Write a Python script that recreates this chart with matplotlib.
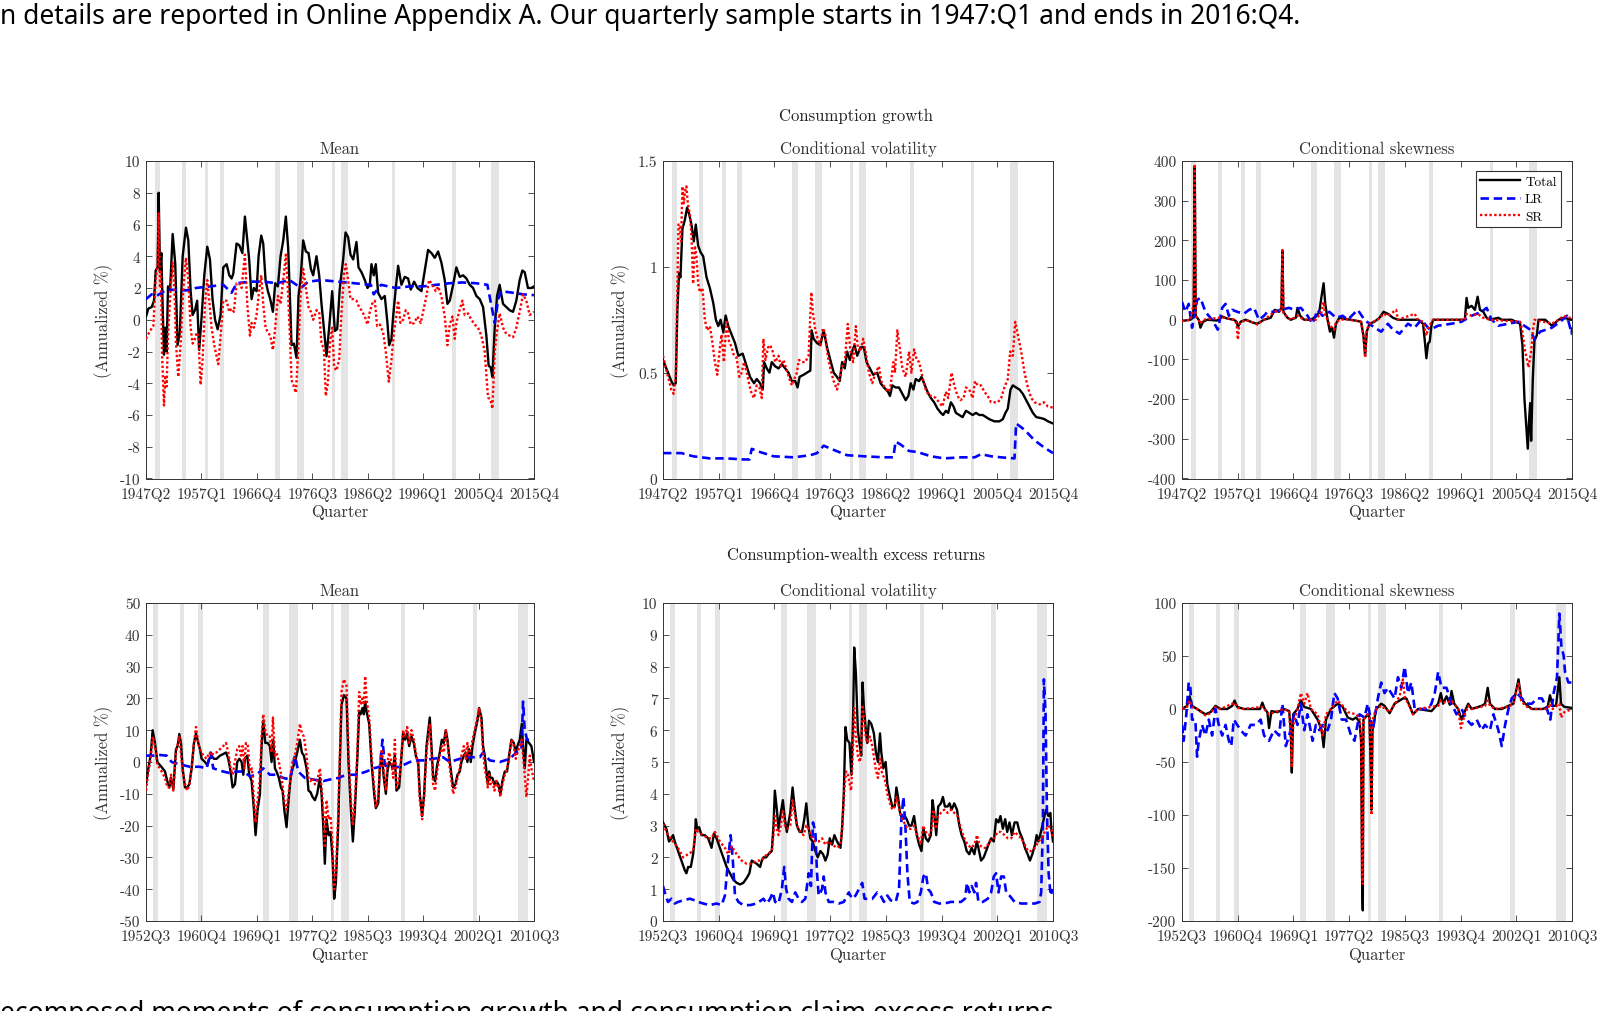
import numpy as np
import matplotlib

matplotlib.use("Agg")
import matplotlib.pyplot as plt

plt.rcParams["font.family"] = "cmr10"
plt.rcParams["axes.unicode_minus"] = False

# NBER recession bands (fractional years)
recessions = [(1948.8, 1949.7), (1953.5, 1954.3), (1957.6, 1958.2), (1960.25, 1961.0),
              (1969.9, 1970.8), (1973.8, 1975.1), (1980.0, 1980.5), (1981.5, 1982.7),
              (1990.5, 1991.1), (2001.1, 2001.75), (2007.9, 2009.3)]

top_ticklabels = ["1947Q2", "1957Q1", "1966Q4", "1976Q3", "1986Q2", "1996Q1", "2005Q4", "2015Q4"]
bottom_ticklabels = ["1952Q3", "1960Q4", "1969Q1", "1977Q2", "1985Q3", "1993Q4", "2002Q1", "2010Q3"]

# ---- Consumption growth: mean ----
cg_mean_total = [(1947.25, 0.2), (1947.66, 0.7), (1948.25, 0.8), (1948.66, 1.2), (1948.95, 3.1), (1949.3, 3.3), (1949.48, 8.0), (1949.71, 3.0), (1949.95, 4.2), (1950.2, 0.5), (1950.41, -2.2), (1950.65, -0.5), (1950.88, -2.0), (1951.12, 2.1), (1951.5, 2.0), (1951.94, 5.4), (1952.4, 3.5), (1952.8, -1.6), (1953.2, -0.8), (1953.7, 4.0), (1954.28, 5.8), (1954.69, 5.0), (1955.1, 1.8), (1955.45, 0.3), (1955.86, 0.6), (1956.25, 1.2), (1956.6, -1.9), (1957.0, 0.0), (1957.5, 2.8), (1958.03, 4.6), (1958.5, 3.8), (1958.95, 1.3), (1959.4, 0.0), (1959.85, -0.6), (1960.37, 0.3), (1960.84, 3.3), (1961.43, 3.5), (1961.9, 2.8), (1962.31, 2.6), (1962.6, 2.9), (1963.18, 4.8), (1963.65, 4.7), (1964.2, 4.2), (1964.65, 6.5), (1965.06, 5.0), (1965.4, 3.8), (1965.82, 1.3), (1966.23, 2.0), (1966.7, 1.8), (1967.05, 4.0), (1967.52, 5.3), (1967.87, 4.8), (1968.28, 2.5), (1968.69, 1.8), (1969.1, 1.3), (1969.57, 0.5), (1969.98, 2.3), (1970.45, 2.1), (1970.92, 4.0), (1971.39, 5.0), (1971.85, 6.5), (1972.26, 4.5), (1972.56, 1.5), (1972.85, -1.6), (1973.26, -1.5), (1973.73, -2.4), (1974.08, 1.5), (1974.43, 2.5), (1974.9, 5.0), (1975.37, 4.3), (1975.84, 4.2), (1976.25, 3.2), (1976.66, 2.8), (1977.24, 4.0), (1977.71, 2.8), (1978.12, 1.0), (1978.53, -0.5), (1979.0, -2.3), (1979.47, -0.5), (1980.0, 1.8), (1980.47, -0.7), (1980.88, -0.6), (1981.34, 2.0), (1981.93, 3.8), (1982.35, 5.5), (1982.81, 5.2), (1983.22, 4.1), (1983.69, 3.8), (1984.27, 4.9), (1984.63, 3.3), (1985.15, 3.0), (1985.74, 2.5), (1986.21, 2.0), (1986.62, 2.2), (1986.91, 3.5), (1987.32, 2.8), (1987.67, 3.5), (1988.08, 1.7), (1988.67, 1.3), (1989.25, 1.5), (1989.72, -0.2), (1990.02, -1.6), (1990.43, -1.2), (1990.72, 0.2), (1991.19, 2.0), (1991.6, 3.4), (1992.18, 2.2), (1992.77, 2.7), (1993.35, 2.6), (1993.82, 1.9), (1994.41, 2.4), (1994.99, 2.0), (1995.7, 1.8), (1996.28, 3.1), (1996.87, 4.4), (1997.46, 4.2), (1998.04, 3.9), (1998.63, 4.3), (1999.21, 3.6), (1999.8, 2.5), (2000.27, 1.0), (2000.68, 1.2), (2001.27, 2.2), (2001.85, 3.3), (2002.44, 2.7), (2003.02, 2.8), (2003.61, 2.6), (2004.19, 2.2), (2004.78, 2.0), (2005.36, 1.5), (2005.95, 1.3), (2006.54, 0.8), (2007.12, -1.0), (2007.53, -2.9), (2007.88, -3.0), (2008.18, -3.6), (2008.59, -0.5), (2009.0, 1.5), (2009.46, 2.2), (2010.05, 1.0), (2010.64, 0.8), (2011.22, 0.6), (2011.81, 0.5), (2012.39, 1.2), (2012.98, 2.5), (2013.45, 3.1), (2013.86, 3.0), (2014.44, 2.0), (2015.03, 2.0), (2015.5, 2.1)]
cg_mean_lr = [(1947.25, 1.3), (1948.25, 1.6), (1949.1, 1.5), (1950.9, 1.9), (1954.4, 1.85), (1956.0, 2.0), (1958.5, 2.1), (1960.85, 2.2), (1962.3, 1.7), (1963.2, 2.3), (1965.6, 2.4), (1967.9, 2.4), (1970.3, 2.3), (1972.5, 2.5), (1974.5, 2.0), (1975.8, 2.4), (1978.1, 2.5), (1981.0, 2.4), (1983.9, 2.3), (1986.8, 2.2), (1987.3, 1.6), (1988.6, 2.2), (1991.2, 2.0), (1993.6, 2.1), (1995.9, 2.1), (1998.3, 2.2), (2000.6, 2.3), (2002.9, 2.35), (2005.3, 2.3), (2007.3, 2.2), (2008.6, -0.2), (2009.2, 1.3), (2009.7, 1.8), (2011.8, 1.7), (2013.6, 1.6), (2015.5, 1.55)]
cg_mean_sr = [(1947.25, -1.2), (1947.95, -0.7), (1948.54, -0.4), (1948.95, 2.5), (1949.3, 3.5), (1949.48, 6.7), (1949.71, 2.0), (1949.89, 3.0), (1950.06, -2.0), (1950.41, -5.4), (1950.65, -3.5), (1950.88, -4.2), (1951.12, -1.0), (1951.35, 0.5), (1951.59, 2.0), (1951.94, 3.6), (1952.29, 1.5), (1952.52, -1.5), (1952.93, -3.6), (1953.34, -1.5), (1953.81, 2.0), (1954.28, 3.9), (1954.69, 2.5), (1955.1, -0.5), (1955.45, -1.5), (1955.86, -1.2), (1956.15, -0.8), (1956.45, -1.0), (1956.86, -4.1), (1957.21, -2.5), (1957.62, 1.0), (1958.03, 2.5), (1958.38, 1.2), (1958.79, -0.5), (1959.2, -1.5), (1959.67, -2.3), (1959.96, -2.8), (1960.37, -1.0), (1960.84, 1.2), (1961.43, 1.2), (1961.9, 0.5), (1962.31, 0.7), (1962.72, 0.5), (1963.18, 2.3), (1963.65, 2.3), (1964.06, 2.0), (1964.65, 4.1), (1965.06, 1.0), (1965.53, -1.0), (1965.82, -0.2), (1966.23, -0.5), (1966.7, 0.3), (1967.05, 1.5), (1967.52, 2.8), (1967.87, 1.0), (1968.28, -0.5), (1968.69, -0.8), (1969.1, -1.0), (1969.57, -1.9), (1969.98, -0.5), (1970.45, 1.5), (1970.92, 1.0), (1971.39, 2.5), (1971.85, 4.1), (1972.26, 1.5), (1972.56, -1.0), (1972.85, -3.8), (1973.26, -4.2), (1973.61, -4.6), (1974.02, -2.0), (1974.43, 1.5), (1974.9, 3.2), (1975.37, 2.0), (1975.84, 0.8), (1976.25, 0.5), (1976.66, 0.0), (1977.24, 0.6), (1977.71, 0.5), (1978.12, -1.5), (1978.53, -1.8), (1978.88, -4.8), (1979.24, -4.0), (1979.59, -1.5), (1980.0, -0.5), (1980.35, -3.0), (1980.76, -3.2), (1981.23, -2.5), (1981.64, 0.5), (1982.11, 3.0), (1982.4, 3.5), (1982.81, 2.5), (1983.22, 1.3), (1983.69, 1.3), (1984.27, 1.2), (1984.74, 0.8), (1985.15, 0.6), (1985.74, 0.2), (1986.21, -0.3), (1986.62, 0.5), (1987.03, 1.0), (1987.5, 1.2), (1987.91, -0.4), (1988.38, -0.3), (1988.96, -0.8), (1989.43, -2.0), (1989.96, -3.9), (1990.43, -2.5), (1990.84, -0.8), (1991.19, 0.0), (1991.6, 1.2), (1992.01, -0.2), (1992.48, 0.0), (1992.94, 0.6), (1993.35, 0.4), (1993.82, -0.3), (1994.41, -0.2), (1994.99, 0.2), (1995.58, -0.2), (1995.99, 0.5), (1996.58, 1.5), (1997.05, 2.5), (1997.63, 2.2), (1998.22, 1.8), (1998.63, 2.1), (1999.21, 1.5), (1999.8, 0.2), (2000.27, -1.6), (2000.68, -0.3), (2001.15, 0.2), (2001.56, -1.2), (2001.85, -0.2), (2002.32, 0.5), (2002.9, 1.2), (2003.31, 0.3), (2003.9, 0.4), (2004.49, 0.0), (2005.07, -0.3), (2005.66, -0.5), (2006.24, -1.0), (2006.83, -2.0), (2007.41, -4.9), (2007.82, -5.0), (2008.18, -5.6), (2008.59, -2.0), (2008.88, -1.0), (2009.46, 0.4), (2010.05, -0.5), (2010.64, -0.9), (2011.22, -1.0), (2011.81, -1.1), (2012.39, -0.5), (2012.98, 0.5), (2013.57, 1.6), (2014.15, 1.2), (2014.74, 0.3), (2015.5, 0.5)]

# ---- Consumption growth: conditional volatility ----
cg_vol_total = [(1947.25, 0.56), (1948.13, 0.5), (1948.71, 0.46), (1949.12, 0.44), (1949.48, 0.45), (1949.77, 0.8), (1950.06, 0.97), (1950.3, 0.95), (1950.65, 1.18), (1951.06, 1.22), (1951.47, 1.28), (1951.82, 1.25), (1952.23, 1.2), (1952.64, 1.12), (1952.99, 1.2), (1953.4, 1.1), (1953.81, 1.07), (1954.28, 1.05), (1954.87, 0.95), (1955.45, 0.9), (1956.04, 0.83), (1956.51, 0.75), (1956.92, 0.72), (1957.33, 0.75), (1957.8, 0.69), (1958.21, 0.77), (1958.67, 0.72), (1959.26, 0.68), (1959.85, 0.64), (1960.43, 0.58), (1961.19, 0.59), (1961.9, 0.53), (1962.48, 0.48), (1963.18, 0.45), (1963.65, 0.47), (1964.24, 0.45), (1964.71, 0.42), (1964.94, 0.55), (1965.41, 0.52), (1965.88, 0.5), (1966.29, 0.55), (1966.88, 0.53), (1967.46, 0.52), (1968.05, 0.54), (1968.63, 0.52), (1969.22, 0.5), (1969.8, 0.46), (1970.39, 0.46), (1970.8, 0.43), (1971.15, 0.48), (1971.85, 0.49), (1972.44, 0.5), (1973.03, 0.51), (1973.26, 0.7), (1973.61, 0.66), (1974.2, 0.64), (1974.78, 0.63), (1975.37, 0.7), (1975.95, 0.62), (1976.54, 0.56), (1977.12, 0.5), (1977.71, 0.48), (1978.18, 0.46), (1978.59, 0.55), (1979.06, 0.52), (1979.47, 0.6), (1979.94, 0.56), (1980.35, 0.6), (1980.76, 0.63), (1981.23, 0.58), (1981.81, 0.62), (1982.4, 0.62), (1982.87, 0.55), (1983.45, 0.52), (1984.04, 0.49), (1984.74, 0.5), (1985.33, 0.45), (1985.92, 0.43), (1986.62, 0.41), (1986.97, 0.39), (1987.38, 0.44), (1987.96, 0.43), (1988.55, 0.43), (1989.14, 0.4), (1989.72, 0.37), (1990.19, 0.39), (1990.6, 0.45), (1991.07, 0.42), (1991.48, 0.47), (1992.07, 0.46), (1992.48, 0.48), (1992.94, 0.45), (1993.53, 0.41), (1994.12, 0.38), (1994.7, 0.36), (1995.29, 0.33), (1995.87, 0.31), (1996.28, 0.3), (1996.75, 0.32), (1997.16, 0.31), (1997.63, 0.36), (1998.1, 0.34), (1998.51, 0.31), (1999.09, 0.3), (1999.68, 0.29), (2000.27, 0.32), (2000.85, 0.31), (2001.44, 0.3), (2002.02, 0.31), (2002.61, 0.3), (2003.2, 0.3), (2003.78, 0.29), (2004.37, 0.28), (2005.25, 0.27), (2006.12, 0.27), (2006.71, 0.28), (2007.18, 0.31), (2007.59, 0.33), (2008.06, 0.42), (2008.47, 0.44), (2009.05, 0.43), (2009.64, 0.42), (2010.22, 0.4), (2010.81, 0.37), (2011.4, 0.34), (2011.98, 0.31), (2012.57, 0.29), (2013.45, 0.285), (2014.03, 0.28), (2014.62, 0.27), (2015.5, 0.26)]
cg_vol_lr = [(1947.25, 0.12), (1950.47, 0.12), (1952.52, 0.105), (1955.45, 0.095), (1958.38, 0.095), (1961.31, 0.09), (1962.37, 0.09), (1962.78, 0.14), (1964.24, 0.125), (1966.58, 0.105), (1970.1, 0.1), (1973.03, 0.11), (1974.2, 0.12), (1975.37, 0.155), (1977.12, 0.135), (1979.47, 0.11), (1982.4, 0.105), (1985.92, 0.1), (1987.55, 0.1), (1987.96, 0.175), (1988.85, 0.16), (1990.31, 0.13), (1991.78, 0.125), (1994.12, 0.105), (1996.46, 0.095), (1999.39, 0.1), (2001.79, 0.1), (2002.9, 0.115), (2004.66, 0.105), (2006.42, 0.1), (2008.76, 0.095), (2009.05, 0.26), (2010.52, 0.23), (2012.28, 0.18), (2014.03, 0.145), (2015.5, 0.12)]
cg_vol_sr = [(1947.25, 0.58), (1948.13, 0.48), (1948.71, 0.42), (1949.12, 0.4), (1949.48, 0.48), (1949.77, 0.9), (1949.95, 1.2), (1950.18, 1.2), (1950.41, 1.12), (1950.65, 1.38), (1950.88, 1.3), (1951.12, 1.36), (1951.35, 1.38), (1951.59, 1.3), (1951.94, 1.25), (1952.23, 1.15), (1952.52, 0.92), (1952.82, 1.1), (1953.11, 1.05), (1953.4, 0.92), (1953.69, 0.88), (1954.16, 0.9), (1954.57, 0.75), (1954.98, 0.7), (1955.45, 0.72), (1955.86, 0.65), (1956.33, 0.55), (1956.74, 0.49), (1957.21, 0.62), (1957.5, 0.68), (1957.91, 0.55), (1958.38, 0.75), (1958.79, 0.65), (1959.26, 0.62), (1959.67, 0.58), (1960.14, 0.57), (1960.61, 0.48), (1961.02, 0.5), (1961.43, 0.55), (1961.9, 0.5), (1962.37, 0.44), (1962.78, 0.4), (1963.18, 0.38), (1963.65, 0.44), (1964.12, 0.43), (1964.53, 0.38), (1964.82, 0.66), (1965.18, 0.56), (1965.64, 0.62), (1966.0, 0.63), (1966.46, 0.6), (1966.88, 0.55), (1967.46, 0.58), (1967.87, 0.53), (1968.34, 0.56), (1968.81, 0.52), (1969.39, 0.47), (1969.8, 0.44), (1970.22, 0.47), (1970.68, 0.5), (1971.03, 0.56), (1971.56, 0.55), (1972.15, 0.55), (1972.73, 0.58), (1973.2, 0.88), (1973.5, 0.78), (1973.91, 0.7), (1974.32, 0.66), (1974.78, 0.63), (1975.25, 0.71), (1975.66, 0.68), (1976.07, 0.58), (1976.54, 0.52), (1977.12, 0.46), (1977.71, 0.42), (1978.18, 0.48), (1978.59, 0.53), (1979.06, 0.55), (1979.59, 0.73), (1980.06, 0.6), (1980.53, 0.55), (1981.0, 0.72), (1981.34, 0.62), (1981.81, 0.6), (1982.28, 0.66), (1982.69, 0.6), (1983.28, 0.5), (1983.86, 0.45), (1984.45, 0.5), (1985.03, 0.53), (1985.45, 0.46), (1986.03, 0.43), (1986.79, 0.41), (1987.09, 0.44), (1987.55, 0.55), (1987.85, 0.5), (1988.26, 0.7), (1988.67, 0.62), (1989.14, 0.52), (1989.72, 0.48), (1990.31, 0.6), (1990.72, 0.5), (1991.19, 0.61), (1991.66, 0.56), (1992.07, 0.55), (1992.65, 0.48), (1993.24, 0.42), (1993.82, 0.39), (1994.41, 0.39), (1994.99, 0.38), (1995.58, 0.36), (1996.16, 0.34), (1996.75, 0.41), (1997.16, 0.38), (1997.75, 0.5), (1998.22, 0.44), (1998.8, 0.39), (1999.27, 0.37), (1999.86, 0.38), (2000.27, 0.43), (2000.85, 0.42), (2001.44, 0.38), (2001.85, 0.46), (2002.32, 0.44), (2002.9, 0.44), (2003.49, 0.41), (2004.08, 0.39), (2004.66, 0.36), (2005.25, 0.36), (2005.83, 0.36), (2006.42, 0.38), (2007.0, 0.43), (2007.59, 0.47), (2008.0, 0.6), (2008.47, 0.58), (2008.88, 0.74), (2009.34, 0.68), (2009.93, 0.6), (2010.52, 0.5), (2011.1, 0.43), (2011.69, 0.38), (2012.28, 0.36), (2013.16, 0.35), (2013.92, 0.36), (2014.62, 0.34), (2015.5, 0.335)]

# ---- Consumption growth: conditional skewness ----
cg_skew_total = [(1947.25, -3), (1948.71, 0), (1949.18, 5), (1949.3, 40), (1949.48, 385), (1949.65, 10), (1950.18, 0), (1950.47, -20), (1950.94, -5), (1951.65, 0), (1953.4, -2), (1954.28, 8), (1955.16, 3), (1956.33, 0), (1956.8, -5), (1957.03, -18), (1957.5, -5), (1958.38, 0), (1959.85, -8), (1960.43, -10), (1961.6, 0), (1962.78, 5), (1963.47, 25), (1964.24, 20), (1964.65, 30), (1964.82, 175), (1965.0, 20), (1965.7, 5), (1966.29, 0), (1967.17, 5), (1967.46, 30), (1967.93, 10), (1968.63, 0), (1969.8, 0), (1970.68, 8), (1971.27, 20), (1971.68, 60), (1972.03, 92), (1972.32, 40), (1972.73, 0), (1973.14, -30), (1973.5, -20), (1973.85, -45), (1974.2, -10), (1974.78, 5), (1975.66, 2), (1976.83, 0), (1978.59, -5), (1979.0, -40), (1979.3, -90), (1979.59, -30), (1980.06, -10), (1980.94, -5), (1981.81, 5), (1982.52, 20), (1983.28, 15), (1984.16, 5), (1985.03, 0), (1988.55, 0), (1989.43, -10), (1989.72, -50), (1990.02, -97), (1990.31, -60), (1990.6, -55), (1990.9, -15), (1991.19, 0), (1996.75, 0), (1997.05, 55), (1997.34, 30), (1997.93, 35), (1998.51, 25), (1998.98, 58), (1999.39, 25), (1999.97, 20), (2000.56, 5), (2001.15, 0), (2002.61, 5), (2003.2, 0), (2004.95, 0), (2006.42, -10), (2006.83, -65), (2007.18, -200), (2007.76, -325), (2008.0, -250), (2008.18, -210), (2008.35, -305), (2008.64, -150), (2008.94, -50), (2009.34, -40), (2009.64, 0), (2010.81, 0), (2011.98, -15), (2013.16, 0), (2014.03, 5), (2015.5, 0)]
cg_skew_lr = [(1947.25, 45), (1947.84, 20), (1948.42, 40), (1949.01, -20), (1949.89, 50), (1950.47, 55), (1951.35, 20), (1952.52, 0), (1953.52, -25), (1954.28, 30), (1954.87, 40), (1955.45, 10), (1956.04, 25), (1956.92, 20), (1958.09, 15), (1958.97, 25), (1959.85, 30), (1960.72, 0), (1961.6, 10), (1962.19, 20), (1963.36, 20), (1964.53, 25), (1965.99, 30), (1966.88, 25), (1968.05, 30), (1969.22, 10), (1970.1, -10), (1970.98, 25), (1971.85, 10), (1973.03, 20), (1974.2, 5), (1975.37, 10), (1976.25, 0), (1978.0, 25), (1979.18, 0), (1980.94, -20), (1982.11, -30), (1983.28, -10), (1984.16, -25), (1985.33, -35), (1986.79, -10), (1987.96, -20), (1989.14, 0), (1990.6, -25), (1992.07, -15), (1994.41, -10), (1996.16, -5), (1997.93, 10), (1999.68, 20), (2000.56, 30), (2001.44, 0), (2002.61, -15), (2004.37, -10), (2006.12, -5), (2008.18, -25), (2008.94, -50), (2009.93, -30), (2011.98, -20), (2013.45, -5), (2014.62, 10), (2015.45, -35), (2015.5, -20)]
cg_skew_sr = [(1947.25, -3), (1948.71, 0), (1949.3, 40), (1949.48, 392), (1949.65, 10), (1950.18, 0), (1950.47, -10), (1951.0, 0), (1954.28, 6), (1956.33, 0), (1956.8, -10), (1957.03, -50), (1957.3, -10), (1958.38, 0), (1960.43, -12), (1961.6, 0), (1963.47, 20), (1964.65, 25), (1964.82, 175), (1965.0, 15), (1966.29, 0), (1967.46, 10), (1968.63, 0), (1970.68, 0), (1971.68, 20), (1972.03, 45), (1972.32, 10), (1972.73, 0), (1973.14, -15), (1973.85, -25), (1974.2, -5), (1975.66, 2), (1978.59, -5), (1979.0, -40), (1979.3, -95), (1979.59, -25), (1980.06, -10), (1981.81, 3), (1982.52, 15), (1983.28, 10), (1984.74, 25), (1985.03, 0), (1987.96, 15), (1988.55, 0), (1989.43, -5), (1990.02, -40), (1990.31, -20), (1991.19, 0), (1996.75, 0), (1997.05, 15), (1997.93, 10), (1998.98, 15), (1999.97, 5), (2001.15, 0), (2006.42, -5), (2006.83, -30), (2007.18, -70), (2007.53, -95), (2007.88, -120), (2008.35, -80), (2008.64, -30), (2008.94, 0), (2011.98, -10), (2013.16, 0), (2014.03, 10), (2015.5, 3)]

# ---- Consumption-wealth excess returns: mean ----
cw_mean_total = [(1952.5, -7), (1952.85, -2), (1953.19, 2), (1953.49, 10), (1953.84, 6), (1954.19, 0), (1954.58, -1), (1954.98, -2), (1955.33, -3), (1955.67, -6), (1955.97, -8), (1956.22, -5), (1956.57, -8.5), (1956.96, 4), (1957.21, 5), (1957.46, 8.8), (1957.71, 6), (1957.95, -2), (1958.3, -8), (1958.65, -8), (1958.95, -7), (1959.29, -2), (1959.64, 6), (1959.94, 9), (1960.28, 6), (1960.53, 4), (1960.78, 1), (1961.28, 0), (1961.62, -1), (1961.92, 1), (1962.27, 2), (1962.61, 1), (1963.01, 1), (1963.51, 2), (1964.0, 2.5), (1964.4, 3), (1964.75, 1), (1965.09, -3), (1965.39, -8), (1965.74, -7), (1966.08, 0), (1966.38, 1), (1966.73, 0), (1966.98, -4), (1967.22, 1), (1967.57, 2), (1967.87, -4), (1968.22, -6), (1968.56, -15), (1968.81, -23), (1969.11, -15), (1969.46, -10), (1969.7, 5), (1969.95, 13), (1970.25, 6), (1970.6, 6), (1970.94, 5), (1971.19, 0), (1971.44, 7), (1971.69, -2), (1971.93, -3), (1972.28, -5), (1972.58, -8), (1972.83, -9), (1973.08, -15), (1973.42, -20.5), (1973.72, -12), (1974.02, -5), (1974.31, -2), (1974.66, 0), (1975.01, 3), (1975.41, 7), (1975.7, 3), (1976.0, 2), (1976.4, -2), (1976.69, -9), (1976.99, -9.5), (1977.29, -11), (1977.64, -12), (1977.98, -10), (1978.38, -5), (1978.63, -10), (1978.88, -20), (1979.12, -32), (1979.37, -18), (1979.67, -23), (1979.97, -22), (1980.26, -30), (1980.51, -43), (1980.76, -38), (1981.11, -20), (1981.35, 0), (1981.6, 18), (1981.95, 21), (1982.35, 20), (1982.64, 0), (1982.99, -15), (1983.29, -25), (1983.59, -15), (1983.93, 0), (1984.23, 16), (1984.43, 15), (1984.73, 17), (1984.92, 15), (1985.12, 19), (1985.32, 16), (1985.72, 12), (1986.06, 0), (1986.46, -10), (1986.71, -14.5), (1987.06, -13), (1987.3, -2), (1987.6, 2), (1987.9, -5), (1988.2, -10), (1988.44, -3), (1988.69, 0), (1989.04, -1), (1989.29, -2), (1989.54, 2), (1989.78, -9), (1990.18, -8), (1990.53, 2), (1990.77, 9), (1991.07, 7), (1991.37, 9), (1991.67, 5), (1992.01, 8), (1992.36, 6), (1992.66, 2), (1993.01, 0), (1993.25, -10), (1993.6, -17), (1993.9, -10), (1994.25, 5), (1994.74, 14), (1994.99, 5), (1995.24, -5), (1995.53, -6), (1995.83, -1), (1996.23, 3), (1996.53, 7), (1996.82, 6), (1997.12, 10), (1997.37, 7), (1997.72, 0), (1998.21, -8), (1998.56, -7), (1998.86, -4), (1999.2, -3), (1999.45, 0), (1999.8, 2), (2000.1, 3), (2000.34, 0), (2000.59, 4), (2000.84, 0), (2001.09, 5), (2001.43, 9), (2001.83, 13), (2002.08, 17), (2002.43, 14), (2002.67, 5), (2002.92, 2), (2003.17, -3), (2003.37, -7), (2003.57, -3), (2003.76, -5), (2004.06, -5), (2004.36, -7), (2004.66, -6), (2004.95, -7), (2005.25, -10), (2005.55, -6), (2005.9, -3), (2006.24, -3), (2006.54, 2), (2006.89, 7), (2007.24, 6), (2007.53, 3), (2007.78, 5), (2008.13, 7), (2008.43, 12), (2008.62, 5), (2008.87, -2), (2009.12, 7), (2009.51, 6), (2009.86, 5), (2010.25, 0)]
cw_mean_lr = [(1952.5, 2), (1953.59, 2), (1954.58, 2.2), (1955.57, 2), (1956.32, 0), (1957.16, -0.5), (1958.05, -1), (1959.04, -1.5), (1960.53, -1.5), (1961.52, -2), (1962.12, 3), (1962.51, -2), (1964.0, -3), (1964.99, -3.5), (1965.99, -3), (1966.98, -3), (1967.97, -4.5), (1968.96, -4), (1969.95, -2), (1970.94, -4), (1971.93, -4), (1972.93, -5), (1973.92, -5.5), (1974.66, 2), (1975.16, -3), (1976.15, -5), (1977.39, -5.5), (1978.88, -6), (1979.87, -5.5), (1981.11, -5), (1982.35, -4), (1983.83, -4), (1985.32, -3), (1986.31, -2), (1987.3, -1.5), (1987.7, 7), (1988.05, -1), (1988.79, -2), (1990.28, -1.5), (1991.77, 0), (1992.76, 0.5), (1993.75, 0.5), (1995.24, 1), (1996.72, 1.5), (1997.72, 0), (1999.2, 1), (2000.69, 1.5), (2002.18, 1.5), (2002.67, 3), (2003.67, 0.5), (2005.15, 0), (2006.64, 1), (2007.63, 3), (2008.38, 4), (2008.62, 19), (2008.87, 10), (2009.22, 7), (2009.62, 7), (2010.25, 7)]
cw_mean_sr = [(1952.5, -9), (1952.85, -3), (1953.19, 1), (1953.49, 8), (1953.84, 5), (1954.19, -1), (1954.58, -2), (1955.33, -5), (1955.67, -8), (1955.97, -8), (1956.22, -4), (1956.57, -9), (1956.96, 3), (1957.46, 8), (1957.95, -3), (1958.3, -7), (1958.65, -9), (1958.95, -7), (1959.29, -2), (1959.64, 6), (1959.94, 11), (1960.28, 6), (1960.53, 4), (1961.03, 2), (1961.52, 1), (1961.92, 3), (1962.27, 2), (1962.61, 3), (1963.01, 3), (1963.51, 4), (1964.0, 5), (1964.4, 6), (1964.75, 3), (1965.09, -2), (1965.39, -4), (1965.74, 0), (1966.08, 4), (1966.38, 5), (1966.63, 2), (1966.88, 5), (1967.13, -2), (1967.37, 6), (1967.67, 5), (1967.97, -3), (1968.27, -2), (1968.56, -12), (1968.81, -19), (1969.11, -12), (1969.46, -5), (1969.7, 8), (1969.95, 15), (1970.25, 10), (1970.6, 8), (1970.94, 8), (1971.19, 3), (1971.39, 14), (1971.69, 2), (1971.93, 3), (1972.28, 0), (1972.68, -5), (1973.08, -12), (1973.42, -15), (1973.72, -10), (1974.02, -4), (1974.31, 0), (1974.66, 2), (1975.01, 6), (1975.41, 12), (1975.7, 9), (1976.0, 8), (1976.4, 2), (1976.69, -5), (1976.99, -6), (1977.29, -5), (1977.64, -7), (1977.98, -6), (1978.38, -2), (1978.63, -8), (1978.88, -15), (1979.12, -27), (1979.37, -12), (1979.67, -18), (1979.97, -17), (1980.26, -26), (1980.51, -40), (1980.76, -35), (1981.11, -16), (1981.35, 2), (1981.6, 22), (1981.95, 26), (1982.35, 24), (1982.64, 3), (1982.99, -12), (1983.29, -20), (1983.59, -12), (1983.93, 2), (1984.23, 22), (1984.43, 18), (1984.73, 20), (1984.92, 18), (1985.12, 27), (1985.32, 20), (1985.72, 14), (1986.06, 2), (1986.46, -8), (1986.71, -14), (1987.06, -12), (1987.3, -2), (1987.6, 4), (1987.9, -3), (1988.2, -9), (1988.44, 0), (1988.69, 3), (1989.04, 0), (1989.29, -5), (1989.54, 7), (1989.78, -8), (1990.18, -6), (1990.53, 3), (1990.77, 10), (1991.07, 8), (1991.37, 11), (1991.67, 6), (1992.01, 10), (1992.36, 7), (1992.66, 3), (1993.01, -1), (1993.25, -12), (1993.6, -18), (1993.9, -11), (1994.25, 3), (1994.74, 12), (1994.99, 3), (1995.24, -7), (1995.53, -9), (1995.83, -3), (1996.23, 2), (1996.53, 5), (1996.82, 3), (1997.12, 10), (1997.37, 6), (1997.72, -2), (1998.21, -10), (1998.56, -8), (1998.86, -5), (1999.2, -2), (1999.45, 2), (1999.8, 5), (2000.1, 1), (2000.34, 6), (2000.59, 2), (2000.84, 4), (2001.09, 7), (2001.43, 10), (2001.83, 14), (2002.08, 17), (2002.43, 12), (2002.67, 3), (2002.92, -2), (2003.17, -5), (2003.37, -8), (2003.57, -4), (2003.76, -7), (2004.06, -6), (2004.36, -9), (2004.66, -6), (2004.95, -8), (2005.25, -11), (2005.55, -7), (2005.9, -4), (2006.24, -2), (2006.54, 1), (2006.89, 7), (2007.24, 5), (2007.53, 1), (2007.78, 3), (2008.13, 5), (2008.43, 7), (2008.62, 2), (2008.87, -4), (2009.12, -11), (2009.37, -5), (2009.62, 2), (2009.86, -2), (2010.25, -6)]

# ---- Consumption-wealth excess returns: conditional volatility ----
cw_vol_total = [(1952.5, 3.1), (1953.0, 2.9), (1953.39, 2.5), (1953.74, 2.6), (1953.99, 2.7), (1954.24, 2.5), (1954.73, 2.2), (1955.23, 1.9), (1955.72, 1.6), (1955.97, 1.5), (1956.22, 1.7), (1956.62, 1.7), (1956.96, 2.1), (1957.21, 2.6), (1957.36, 3.2), (1957.56, 2.9), (1957.85, 2.95), (1958.2, 2.7), (1958.7, 2.7), (1959.19, 2.6), (1959.69, 2.3), (1960.04, 2.75), (1960.43, 2.6), (1960.93, 2.3), (1961.42, 2.0), (1961.92, 1.7), (1962.42, 1.5), (1962.91, 1.3), (1963.41, 1.2), (1963.9, 1.15), (1964.4, 1.2), (1964.89, 1.35), (1965.29, 1.5), (1965.64, 1.9), (1965.99, 1.85), (1966.38, 1.8), (1966.88, 1.7), (1967.13, 1.9), (1967.37, 2.0), (1967.77, 2.0), (1968.12, 2.1), (1968.61, 2.2), (1968.86, 3.0), (1969.06, 4.1), (1969.36, 3.5), (1969.6, 2.9), (1969.95, 3.4), (1970.25, 3.8), (1970.55, 3.2), (1970.84, 2.8), (1971.34, 3.4), (1971.69, 4.2), (1971.98, 3.6), (1972.33, 3.0), (1972.73, 2.8), (1973.08, 2.8), (1973.42, 3.2), (1973.72, 3.7), (1974.02, 3.0), (1974.31, 2.6), (1974.66, 2.5), (1975.06, 2.2), (1975.41, 2.0), (1975.8, 2.2), (1976.2, 2.1), (1976.55, 1.9), (1976.89, 2.1), (1977.19, 2.6), (1977.54, 2.4), (1977.88, 2.7), (1978.28, 2.5), (1978.78, 2.3), (1979.02, 2.9), (1979.27, 4.0), (1979.52, 6.1), (1979.77, 5.7), (1980.11, 5.6), (1980.41, 4.6), (1980.66, 6.5), (1980.81, 8.6), (1981.06, 7.8), (1981.35, 6.0), (1981.65, 5.5), (1981.85, 5.2), (1982.05, 7.5), (1982.25, 6.7), (1982.54, 6.0), (1982.74, 5.6), (1982.99, 6.3), (1983.34, 6.2), (1983.73, 5.9), (1984.03, 5.3), (1984.33, 5.0), (1984.63, 5.9), (1984.83, 5.3), (1985.12, 4.8), (1985.47, 5.0), (1985.72, 4.3), (1986.11, 3.9), (1986.46, 3.6), (1986.81, 3.6), (1987.06, 4.2), (1987.3, 3.9), (1987.6, 3.4), (1987.95, 3.2), (1988.3, 3.3), (1988.59, 3.2), (1988.94, 3.0), (1989.29, 3.0), (1989.68, 3.3), (1990.08, 2.7), (1990.43, 2.4), (1990.77, 2.2), (1991.07, 2.9), (1991.42, 2.6), (1991.77, 2.5), (1992.16, 2.7), (1992.41, 3.8), (1992.66, 3.4), (1992.96, 2.7), (1993.25, 3.6), (1993.65, 3.7), (1993.95, 3.9), (1994.25, 3.6), (1994.64, 3.6), (1994.94, 3.7), (1995.24, 3.5), (1995.63, 3.7), (1996.03, 3.5), (1996.38, 3.0), (1996.72, 2.7), (1997.12, 2.5), (1997.47, 2.2), (1997.86, 2.1), (1998.21, 2.3), (1998.61, 2.1), (1998.96, 2.5), (1999.2, 2.3), (1999.6, 1.9), (1999.99, 2.0), (2000.34, 2.2), (2000.69, 2.4), (2001.09, 2.6), (2001.48, 2.5), (2001.83, 3.2), (2002.18, 3.1), (2002.47, 3.3), (2002.82, 2.9), (2003.17, 3.2), (2003.47, 2.8), (2003.81, 3.1), (2004.16, 2.7), (2004.56, 3.1), (2004.95, 3.1), (2005.3, 2.8), (2005.7, 2.6), (2006.09, 2.3), (2006.49, 2.1), (2006.84, 1.9), (2007.19, 2.1), (2007.58, 2.4), (2007.83, 2.7), (2008.08, 2.5), (2008.47, 2.8), (2008.87, 3.2), (2009.22, 3.5), (2009.57, 3.3), (2009.86, 3.4), (2010.0, 2.9), (2010.25, 2.5)]
cw_vol_lr = [(1952.5, 1.1), (1952.9, 0.8), (1953.24, 0.6), (1953.74, 0.7), (1954.24, 0.55), (1954.73, 0.6), (1955.47, 0.65), (1956.47, 0.7), (1957.21, 0.65), (1957.71, 0.6), (1958.45, 0.55), (1959.44, 0.5), (1960.43, 0.55), (1961.18, 0.5), (1961.67, 0.8), (1962.17, 2.0), (1962.51, 2.7), (1962.81, 2.0), (1963.16, 0.8), (1963.66, 0.6), (1964.4, 0.5), (1965.39, 0.5), (1966.38, 0.55), (1967.37, 0.7), (1967.87, 0.55), (1968.37, 0.7), (1968.76, 0.9), (1969.11, 0.6), (1969.6, 0.55), (1970.1, 1.0), (1970.45, 1.7), (1970.74, 1.0), (1971.09, 0.7), (1971.59, 0.6), (1972.08, 0.9), (1972.58, 0.7), (1973.08, 0.6), (1973.57, 0.7), (1974.07, 1.5), (1974.41, 1.1), (1974.71, 3.1), (1975.06, 2.8), (1975.31, 1.5), (1975.55, 0.8), (1976.05, 1.0), (1976.3, 1.4), (1976.55, 0.9), (1977.04, 0.6), (1977.78, 0.6), (1978.53, 0.55), (1979.27, 0.6), (1980.01, 0.9), (1980.51, 0.7), (1981.01, 0.8), (1981.5, 1.0), (1982.0, 1.2), (1982.35, 0.7), (1982.74, 0.7), (1983.49, 0.7), (1984.23, 0.9), (1984.73, 0.8), (1985.22, 0.6), (1985.72, 0.8), (1986.21, 0.65), (1986.96, 0.6), (1987.45, 1.0), (1987.8, 3.2), (1988.1, 3.9), (1988.39, 3.0), (1988.69, 1.5), (1989.04, 0.6), (1989.68, 0.55), (1990.18, 0.6), (1990.67, 0.9), (1991.07, 1.4), (1991.42, 1.5), (1991.77, 1.0), (1992.16, 0.9), (1992.66, 0.6), (1993.4, 0.55), (1994.15, 0.55), (1995.14, 0.6), (1995.88, 0.6), (1996.62, 0.6), (1997.22, 0.7), (1997.52, 1.2), (1997.86, 0.9), (1998.21, 1.1), (1998.61, 0.9), (1998.86, 1.2), (1999.2, 0.6), (1999.85, 0.6), (2000.59, 0.7), (2001.09, 0.9), (2001.48, 1.4), (2001.83, 1.5), (2002.18, 0.9), (2002.57, 1.4), (2002.97, 1.4), (2003.32, 0.9), (2003.81, 0.8), (2004.56, 0.6), (2005.55, 0.55), (2006.54, 0.55), (2007.58, 0.55), (2008.25, 0.6), (2008.5, 0.9), (2008.75, 3.0), (2008.9, 7.6), (2009.15, 6.5), (2009.35, 3.5), (2009.6, 1.5), (2009.9, 0.8), (2010.05, 0.9), (2010.25, 1.0)]
cw_vol_sr = [(1952.5, 3.05), (1953.24, 2.7), (1953.99, 2.5), (1954.73, 2.3), (1955.47, 2.0), (1956.22, 2.1), (1956.96, 2.2), (1957.36, 2.9), (1957.71, 2.8), (1958.45, 2.7), (1959.19, 2.6), (1959.69, 2.6), (1960.18, 2.8), (1960.93, 2.5), (1961.67, 2.3), (1962.17, 2.1), (1962.66, 2.35), (1963.41, 2.1), (1964.15, 1.9), (1964.89, 1.8), (1965.64, 1.8), (1966.38, 1.9), (1967.13, 1.9), (1967.87, 2.1), (1968.61, 2.2), (1968.86, 2.7), (1969.06, 3.3), (1969.36, 2.9), (1969.6, 2.7), (1969.95, 3.0), (1970.25, 3.5), (1970.55, 3.0), (1970.84, 2.9), (1971.34, 3.0), (1971.69, 3.8), (1971.98, 3.4), (1972.33, 3.0), (1972.83, 2.8), (1973.32, 2.7), (1973.72, 3.0), (1974.07, 2.9), (1974.56, 2.6), (1975.06, 2.5), (1975.55, 2.5), (1976.05, 2.6), (1976.55, 2.4), (1977.04, 2.5), (1977.54, 2.4), (1978.28, 2.3), (1978.78, 2.4), (1979.12, 3.2), (1979.37, 4.2), (1979.62, 4.7), (1979.87, 4.6), (1980.16, 4.3), (1980.36, 4.1), (1980.61, 5.3), (1980.81, 6.7), (1981.06, 5.8), (1981.35, 5.2), (1981.65, 5.0), (1981.85, 5.5), (1982.05, 6.8), (1982.25, 6.4), (1982.54, 5.8), (1982.74, 5.6), (1983.14, 5.8), (1983.49, 5.5), (1983.98, 4.8), (1984.33, 4.5), (1984.63, 5.1), (1984.97, 4.6), (1985.32, 4.5), (1985.72, 4.0), (1986.11, 3.7), (1986.46, 3.5), (1986.81, 3.6), (1987.06, 3.9), (1987.3, 3.7), (1987.7, 3.3), (1988.2, 3.1), (1988.69, 2.9), (1989.19, 2.9), (1989.68, 3.0), (1990.18, 2.7), (1990.67, 2.4), (1991.02, 3.0), (1991.42, 2.8), (1991.92, 2.7), (1992.31, 2.9), (1992.56, 3.5), (1992.91, 2.9), (1993.25, 3.3), (1993.65, 3.4), (1994.15, 3.5), (1994.64, 3.4), (1995.14, 3.5), (1995.63, 3.4), (1996.13, 3.3), (1996.62, 2.9), (1997.12, 2.6), (1997.62, 2.4), (1998.11, 2.3), (1998.61, 2.4), (1999.0, 2.7), (1999.35, 2.4), (1999.85, 2.3), (2000.34, 2.3), (2000.84, 2.5), (2001.48, 2.6), (2002.08, 2.8), (2002.57, 2.8), (2003.07, 2.7), (2003.57, 2.6), (2004.06, 2.6), (2004.56, 2.8), (2005.05, 2.7), (2005.55, 2.6), (2006.09, 2.4), (2006.54, 2.2), (2007.04, 2.2), (2007.58, 2.3), (2008.08, 2.5), (2008.58, 2.6), (2009.02, 2.8), (2009.57, 3.0), (2009.96, 2.9), (2010.25, 2.6)]

# ---- Consumption-wealth excess returns: conditional skewness ----
cw_skew_total = [(1952.5, 0), (1953.24, 3), (1953.64, 12), (1953.99, 3), (1954.73, 0), (1955.97, -5), (1956.71, -3), (1957.46, 3), (1958.2, 0), (1959.19, 0), (1959.94, 3), (1960.28, 8), (1960.68, 2), (1961.67, 0), (1964.05, 0), (1964.4, 6), (1964.75, 0), (1965.14, -3), (1965.39, -18), (1965.74, -2), (1966.63, -3), (1967.62, 0), (1968.37, -2), (1968.61, -20), (1968.76, -60), (1968.96, -5), (1969.6, 0), (1970.1, 8), (1970.6, 2), (1971.59, 0), (1972.58, -10), (1973.18, -20), (1973.47, -36), (1973.82, -10), (1974.56, 0), (1975.55, 5), (1976.3, 2), (1977.04, -8), (1977.78, -10), (1978.28, -8), (1978.78, -12), (1979.02, -30), (1979.17, -160), (1979.27, -190), (1979.37, -10), (1980.01, -5), (1980.26, -8), (1980.46, -60), (1980.56, -95), (1980.71, -20), (1981.25, 0), (1982.0, 5), (1982.49, 3), (1983.24, -4), (1983.98, 5), (1984.73, 8), (1985.22, 10), (1985.72, 10), (1986.21, 3), (1986.71, -5), (1987.45, 0), (1989.44, -2), (1990.43, 5), (1990.82, 15), (1991.17, 5), (1991.67, 12), (1992.16, 4), (1992.41, 17), (1992.81, 5), (1993.4, 0), (1993.9, -10), (1994.39, -2), (1994.89, 5), (1995.39, 0), (1996.87, 3), (1997.37, 5), (1997.77, 20), (1998.11, 5), (1998.86, 0), (1999.85, 0), (2000.84, 3), (2001.58, 5), (2002.33, 28), (2002.72, 10), (2003.32, 5), (2004.31, 0), (2005.9, 0), (2006.64, 2), (2006.99, 13), (2007.38, 3), (2007.88, 3), (2008.38, 30), (2008.62, 5), (2009.12, 2), (2010.25, 1)]
cw_skew_lr = [(1952.5, -15), (1952.75, -30), (1953.14, -5), (1953.49, 25), (1953.74, 20), (1953.99, -10), (1954.48, -10), (1954.73, -45), (1954.98, -30), (1955.47, -15), (1955.97, -25), (1956.47, -10), (1956.96, -25), (1957.46, 0), (1957.95, -15), (1958.45, -25), (1958.95, -15), (1959.44, -30), (1959.79, -35), (1960.18, -10), (1960.68, -15), (1961.18, -20), (1961.92, -25), (1962.66, -15), (1963.41, -15), (1964.15, -10), (1964.65, -25), (1965.39, -30), (1966.13, -20), (1966.88, -25), (1967.37, 5), (1967.87, -35), (1968.37, -25), (1969.11, -5), (1969.6, -15), (1970.1, 5), (1970.6, -20), (1971.09, -5), (1971.84, -30), (1972.33, -15), (1972.83, -20), (1973.32, -15), (1974.07, -20), (1974.56, -10), (1975.06, 15), (1975.55, 10), (1976.15, -10), (1976.79, -10), (1977.54, -25), (1978.04, -30), (1978.78, -5), (1979.52, -8), (1980.01, 5), (1980.76, -20), (1981.5, 10), (1982.0, 25), (1982.49, 15), (1982.99, 20), (1983.98, 10), (1984.48, 30), (1984.97, 20), (1985.47, 40), (1985.96, 15), (1986.46, 25), (1986.96, 0), (1987.95, 0), (1988.94, 0), (1989.44, 5), (1989.93, 15), (1990.43, 35), (1990.92, 20), (1991.67, 20), (1992.41, 5), (1993.15, -5), (1993.9, 0), (1994.64, -10), (1995.39, -15), (1996.13, -10), (1996.87, -20), (1997.37, -15), (1998.11, -20), (1998.61, -5), (1999.35, -20), (1999.85, -35), (2000.34, -15), (2000.84, 0), (2001.33, 10), (2002.08, 15), (2002.82, 10), (2003.57, 5), (2004.31, 5), (2005.05, 10), (2005.8, 10), (2006.54, 0), (2007.04, -10), (2007.53, 15), (2008.03, 30), (2008.38, 90), (2008.67, 60), (2009.02, 50), (2009.22, 35), (2009.71, 25), (2010.25, 25)]
cw_skew_sr = [(1952.5, 0), (1953.24, 2), (1953.64, 8), (1953.99, 2), (1954.73, 0), (1955.97, -6), (1956.71, -4), (1957.46, 2), (1958.2, 0), (1960.28, 6), (1960.68, 1), (1961.67, 0), (1964.4, 2), (1965.39, -5), (1966.63, -2), (1967.62, 0), (1968.37, -2), (1968.61, -30), (1968.76, -55), (1968.96, -15), (1969.6, 0), (1970.1, 15), (1970.6, 5), (1971.09, 15), (1971.59, 0), (1972.58, -5), (1973.32, -25), (1973.82, -5), (1974.56, 0), (1975.55, 8), (1976.3, 3), (1977.04, -3), (1978.28, -5), (1978.78, -8), (1979.02, -25), (1979.17, -160), (1979.27, -165), (1979.37, -10), (1980.01, -5), (1980.26, -10), (1980.46, -60), (1980.56, -100), (1980.71, -10), (1981.25, 0), (1982.0, 3), (1983.24, -3), (1984.73, 12), (1985.22, 28), (1985.47, 12), (1986.21, 2), (1986.71, -5), (1987.45, 0), (1990.43, 3), (1990.82, 8), (1991.67, 6), (1992.41, 8), (1993.4, 0), (1993.8, -18), (1994.39, -5), (1994.89, 3), (1995.39, 0), (1997.37, 3), (1997.77, 8), (1998.11, 3), (1998.86, 0), (2000.84, 2), (2001.58, 5), (2002.33, 25), (2002.72, 8), (2003.32, 3), (2004.31, 0), (2006.64, 0), (2006.99, 5), (2007.38, 0), (2008.38, 5), (2008.62, -8), (2009.12, -3), (2010.25, 0)]

W, H = 1614, 1012
AX_COLOR = "#333333"
BAND_COLOR = "#e4e4e4"


def draw_panel(ax, total, lr, sr, xlim, ticklabels, ylim, ystep, title, ylabel):
    for a, b in recessions:
        if b > xlim[0]:
            ax.axvspan(max(a, xlim[0]), b, color=BAND_COLOR, lw=0, zorder=0)
    ax.plot(*np.array(total).T, color="black", lw=1.7, label="Total", zorder=3)
    ax.plot(*np.array(lr).T, color="blue", lw=1.9, ls=(0, (3.2, 1.8)), label="LR", zorder=3)
    ax.plot(*np.array(sr).T, color="red", lw=1.7, ls=(0, (1, 1)), label="SR", zorder=3)

    ax.set_xlim(*xlim)
    ax.set_ylim(*ylim)
    ax.set_xticks(np.linspace(xlim[0], xlim[1], len(ticklabels)))
    ax.set_xticklabels(ticklabels)
    yt = np.arange(ylim[0], ylim[1] + ystep / 2, ystep)
    ax.set_yticks(yt)
    ax.set_yticklabels([f"{v:g}" for v in yt])
    ax.tick_params(direction="in", top=True, right=True, length=4, width=0.6,
                   labelsize=11, colors=AX_COLOR)
    ax.tick_params(axis="x", pad=6)
    ax.tick_params(axis="y", pad=4)
    for s in ax.spines.values():
        s.set_color(AX_COLOR)
        s.set_linewidth(0.7)
    ax.set_title(title, fontsize=12, color=AX_COLOR, pad=6)
    ax.set_xlabel("Quarter", fontsize=12, color=AX_COLOR, va="center")
    ax.xaxis.set_label_coords(0.5, -0.104)
    if ylabel:
        ax.set_ylabel("(Annualized %)", fontsize=12, color=AX_COLOR, va="center")
        ax.yaxis.set_label_coords(-0.108, 0.5)


fig = plt.figure(figsize=(W / 100, H / 100), dpi=100)

cols = [(146, 534), (663, 1053), (1182, 1572)]
rows = [(162, 479.5), (604, 922)]


def add_ax(col, row):
    (x0, x1), (y0, y1) = cols[col], rows[row]
    return fig.add_axes([x0 / W, 1 - y1 / H, (x1 - x0) / W, (y1 - y0) / H])


top_xlim = (1947.25, 2015.5)
bot_xlim = (1952.5, 2010.25)

ax = add_ax(0, 0)
draw_panel(ax, cg_mean_total, cg_mean_lr, cg_mean_sr, top_xlim, top_ticklabels, (-10, 10), 2, "Mean", True)
ax = add_ax(1, 0)
draw_panel(ax, cg_vol_total, cg_vol_lr, cg_vol_sr, top_xlim, top_ticklabels, (0, 1.5), 0.5, "Conditional volatility", True)
ax = add_ax(2, 0)
draw_panel(ax, cg_skew_total, cg_skew_lr, cg_skew_sr, top_xlim, top_ticklabels, (-400, 400), 100, "Conditional skewness", False)
leg = ax.legend(loc="upper right", bbox_to_anchor=(0.972, 0.969), borderaxespad=0,
                fontsize=9.5, handlelength=3.0, labelspacing=0.4, fancybox=False,
                framealpha=1, edgecolor=AX_COLOR, borderpad=0.35, handletextpad=0.4)
leg.get_frame().set_linewidth(0.8)

ax = add_ax(0, 1)
draw_panel(ax, cw_mean_total, cw_mean_lr, cw_mean_sr, bot_xlim, bottom_ticklabels, (-50, 50), 10, "Mean", True)
ax = add_ax(1, 1)
draw_panel(ax, cw_vol_total, cw_vol_lr, cw_vol_sr, bot_xlim, bottom_ticklabels, (0, 10), 1, "Conditional volatility", True)
ax = add_ax(2, 1)
draw_panel(ax, cw_skew_total, cw_skew_lr, cw_skew_sr, bot_xlim, bottom_ticklabels, (-200, 100), 50, "Conditional skewness", False)

fig.text(856 / W, 1 - 116 / H, "Consumption growth", ha="center", va="center", fontsize=12, color="#222222")
fig.text(856 / W, 1 - 555 / H, "Consumption-wealth excess returns", ha="center", va="center", fontsize=12, color="#222222")

# surrounding page text
fig.text(0.0, 1 - 17 / H, "n details are reported in Online Appendix A. Our quarterly sample starts in 1947:Q1 and ends in 2016:Q4.",
         ha="left", va="center", fontsize=19, family="Noto Sans", color="black")
fig.text(0.0, 1 - 1000 / H, "ecomposed moments of consumption growth and consumption claim excess returns.",
         ha="left", va="top", fontsize=19, family="Noto Sans", color="black")

fig.savefig("out.png", dpi=100)
